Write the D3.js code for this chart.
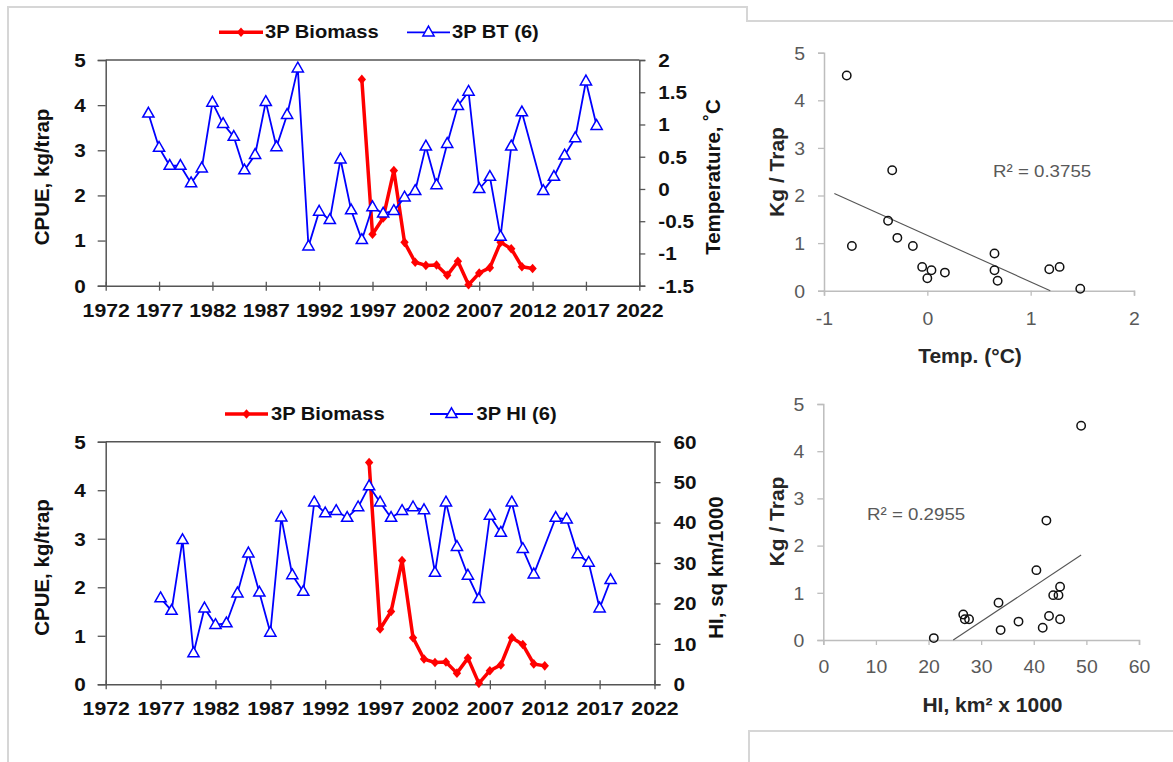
<!DOCTYPE html>
<html><head><meta charset="utf-8">
<script src="https://cdn.jsdelivr.net/npm/d3@7"></script>
<style>body{margin:0;background:#fff} svg{display:block} text{font-family:"Liberation Sans",Arial,sans-serif}</style>
</head><body><svg id="c" width="1173" height="762"></svg>
<script>
// ---------- data ----------
const yearTicks = [1972,1977,1982,1987,1992,1997,2002,2007,2012,2017,2022];
const cpueTicks = [0,1,2,3,4,5];
const tempTicks = [-1.5,-1,-0.5,0,0.5,1,1.5,2];
const hiTicks = [0,10,20,30,40,50,60];

const biomassYears = [1996,1997,1998,1999,2000,2001,2002,2003,2004,2005,2006,2007,2008,2009,2010,2011,2012];
const biomassValues = [4.57,1.14,1.50,2.55,0.96,0.52,0.45,0.46,0.23,0.54,0.02,0.28,0.40,0.96,0.82,0.42,0.38];

const btYears = [1976,1977,1978,1979,1980,1981,1982,1983,1984,1985,1986,1987,1988,1989,1990,1991,1992,1993,1994,1995,1996,1997,1998,1999,2000,2001,2002,2003,2004,2005,2006,2007,2008,2009,2010,2011,2013,2014,2015,2016,2017,2018];
const btValues = [1.17,0.64,0.36,0.36,0.09,0.32,1.34,1.01,0.81,0.29,0.53,1.35,0.65,1.15,1.87,-0.89,-0.35,-0.48,0.46,-0.33,-0.79,-0.28,-0.38,-0.34,-0.13,-0.03,0.66,0.06,0.70,1.29,1.51,0.00,0.19,-0.74,0.66,1.19,-0.03,0.19,0.52,0.79,1.67,0.98];

const hiYears = [1977,1978,1979,1980,1981,1982,1983,1984,1985,1986,1987,1988,1989,1990,1991,1992,1993,1994,1995,1996,1997,1998,1999,2000,2001,2002,2003,2004,2005,2006,2007,2008,2009,2010,2011,2013,2014,2015,2016,2017,2018];
const hiValues = [21.3,18.2,35.7,7.7,18.8,14.7,15.1,22.5,32.4,22.7,12.8,41.3,27.0,22.9,45.0,42.3,42.9,41.2,43.8,49.0,45.0,41.2,42.9,43.8,43.1,27.6,45.0,34.0,26.9,21.1,41.7,37.5,45.0,33.5,27.2,41.2,40.8,32.2,30.1,18.8,25.8];

const scatTempX = [-0.78,-0.29,-0.38,-0.34,-0.14,-0.05,0.65,0.04,0.68,1.28,1.48,0.00,0.17,-0.73,0.65,1.18];
const scatTempY = [4.52,1.11,1.47,2.53,0.94,0.50,0.43,0.43,0.21,0.50,0.04,0.26,0.38,0.94,0.78,0.45];
const trendTempX = [-0.9,1.19];
const trendTempY = [2.04,0];
const scatTempXTicks = [-1,0,1,2];

const scatHiX = [49.0,45.0,40.5,42.4,43.7,42.9,27.7,45.0,33.7,26.6,21.0,41.7,37.1,44.7,33.3,26.9];
const scatHiY = [4.54,1.13,1.48,2.53,0.95,0.51,0.44,0.44,0.21,0.54,0.04,0.26,0.39,0.95,0.79,0.44];
const trendHiX = [24.7,49.0];
const trendHiY = [0,1.80];
const scatHiXTicks = [0,10,20,30,40,50,60];

// ---------- drawing ----------
const svg = d3.select("#c");
const SX = 1.15;
const AX = "#555";
const BLUE = "#0000ff", RED = "#ff0000";

// frame
svg.append("path").attr("d","M8,762V7H747V21H1173").attr("fill","none").attr("stroke","#d6d6d6").attr("stroke-width",2);
svg.append("path").attr("d","M749,762V731H1173").attr("fill","none").attr("stroke","#d6d6d6").attr("stroke-width",2);

function stext(g, x, y, str, o){
  return g.append("text").attr("transform",`translate(${x},${y}) scale(${o.sx||1},1)`)
    .attr("text-anchor",o.anchor||"start").attr("font-size",o.fs).attr("font-weight",o.bold?"bold":"normal")
    .attr("fill",o.color||"#111").text(str);
}
const triPath = "M0,-6.2L5.6,3.6L-5.6,3.6Z";
const diaPath = "M0,-4.8L4.2,0L0,4.8L-4.2,0Z";

function lineChart(o){
  const g = svg.append("g");
  const x = d3.scaleLinear().domain([1972,2022]).range([o.x0,o.x1]);
  const yL = d3.scaleLinear().domain([0,5]).range([o.y0,o.y1]);
  const yR = d3.scaleLinear().domain(o.rDomain).range([o.y0,o.y1]);

  g.append("line").attr("x1",o.x0).attr("x2",o.x1).attr("y1",o.y1).attr("y2",o.y1).attr("stroke",AX).attr("stroke-width",1.5);

  const xa = g.append("g").attr("transform",`translate(0,${o.y0})`)
    .call(d3.axisBottom(x).tickValues(yearTicks).tickSizeOuter(0).tickSizeInner(4).tickFormat(d3.format("d")));
  xa.selectAll(".tick line").attr("y1",-4).attr("y2",5);
  xa.selectAll(".tick text").attr("y",31).attr("dy",0).attr("font-size",18.5).attr("font-weight","bold")
    .attr("fill","#111").attr("transform",`scale(${SX},1)`).style("font-family",'"Liberation Sans",Arial,sans-serif');

  const la = g.append("g").attr("transform",`translate(${o.x0},0)`)
    .call(d3.axisLeft(yL).tickValues(cpueTicks).tickSizeOuter(0).tickSize(8).tickFormat(d=>String(d)));
  la.selectAll(".tick text").attr("x",-20/SX).attr("dy","0.35em").attr("font-size",18).attr("font-weight","bold")
    .attr("fill","#111").attr("transform",`scale(${SX},1)`).style("font-family",'"Liberation Sans",Arial,sans-serif');

  const ra = g.append("g").attr("transform",`translate(${o.x1},0)`)
    .call(d3.axisRight(yR).tickValues(o.rTicks).tickSizeOuter(0).tickSize(6).tickFormat(d=>String(d)));
  ra.selectAll(".tick text").attr("x",19/SX).attr("dy","0.35em").attr("font-size",18).attr("font-weight","bold")
    .attr("fill","#111").attr("transform",`scale(${SX},1)`).style("font-family",'"Liberation Sans",Arial,sans-serif');

  [xa,la,ra].forEach(a=>{a.select(".domain").attr("stroke",AX).attr("stroke-width",1.5);
    a.selectAll(".tick line").attr("stroke",AX).attr("stroke-width",1.3);});

  // titles
  g.append("text").attr("transform",`translate(41,${o.ymid}) rotate(-90)`).attr("text-anchor","middle")
    .attr("dominant-baseline","central").attr("font-size",20.5).attr("font-weight","bold").attr("fill","#111").text("CPUE, kg/trap");
  g.append("text").attr("transform",`translate(${o.rtx},${o.ymid}) rotate(-90)`).attr("text-anchor","middle")
    .attr("dominant-baseline","central").attr("font-size",20.5).attr("font-weight","bold").attr("fill","#111").text(o.rTitle);

  // biomass (red)
  const bio = biomassYears.map((yr,i)=>[yr,biomassValues[i]]);
  g.append("path").datum(bio).attr("fill","none").attr("stroke",RED).attr("stroke-width",3.5).attr("stroke-linejoin","round")
    .attr("d",d3.line().x(d=>x(d[0])).y(d=>yL(d[1])));
  g.selectAll(null).data(bio).join("path").attr("d",diaPath).attr("fill",RED)
    .attr("transform",d=>`translate(${x(d[0])},${yL(d[1])})`);

  // right series (blue)
  const ser = o.years.map((yr,i)=>[yr,o.values[i]]);
  g.append("path").datum(ser).attr("fill","none").attr("stroke",BLUE).attr("stroke-width",1.8)
    .attr("d",d3.line().x(d=>x(d[0])).y(d=>yR(d[1])));
  g.selectAll(null).data(ser).join("path").attr("d",triPath).attr("fill","#fff").attr("stroke",BLUE).attr("stroke-width",1.5)
    .attr("transform",d=>`translate(${x(d[0])},${yR(d[1])})`);

  // legend
  const L = o.leg;
  g.append("line").attr("x1",L.r0).attr("x2",L.r1).attr("y1",L.y).attr("y2",L.y).attr("stroke",RED).attr("stroke-width",3.5);
  g.append("path").attr("d",diaPath).attr("fill",RED).attr("transform",`translate(${(L.r0+L.r1)/2},${L.y})`);
  stext(g, L.rt, L.y+5.5, "3P Biomass", {fs:17.5,bold:true,sx:SX});
  g.append("line").attr("x1",L.b0).attr("x2",L.b1).attr("y1",L.y).attr("y2",L.y).attr("stroke",BLUE).attr("stroke-width",1.8);
  g.append("path").attr("d",triPath).attr("fill","#fff").attr("stroke",BLUE).attr("stroke-width",1.5).attr("transform",`translate(${(L.b0+L.b1)/2},${L.y})`);
  stext(g, L.bt, L.y+5.5, o.legName, {fs:17.5,bold:true,sx:SX});
}

lineChart({x0:105.7,x1:639.3,y0:285.7,y1:60,ymid:177,rDomain:[-1.5,2],rTicks:tempTicks,
  rTitle:"Temperature, ˚C",rtx:712,years:btYears,values:btValues,legName:"3P BT (6)",
  leg:{y:32.3,r0:219,r1:263,rt:265,b0:407,b1:450,bt:452}});
lineChart({x0:105.7,x1:654.5,y0:684.3,y1:441.7,ymid:567.5,rDomain:[0,60],rTicks:hiTicks,
  rTitle:"HI, sq km/1000",rtx:715,years:hiYears,values:hiValues,legName:"3P HI (6)",
  leg:{y:414,r0:225,r1:268,rt:271,b0:430,b1:473,bt:476.5}});

// ---------- scatters ----------
function scatter(o){
  const g = svg.append("g");
  const x = d3.scaleLinear().domain(o.xDomain).range([o.x0,o.x1]);
  const y = d3.scaleLinear().domain([0,5]).range([o.y0,o.y1]);
  const SC = "#bdbdbd";
  const xa = g.append("g").attr("transform",`translate(0,${o.y0})`)
    .call(d3.axisBottom(x).tickValues(o.xTicks).tickSizeOuter(0).tickSize(5).tickFormat(d=>String(d)));
  xa.selectAll(".tick text").attr("y",o.xlab).attr("dy",0).attr("font-size",18).attr("fill","#595959")
    .attr("transform","scale(1.08,1)").style("font-family",'"Liberation Sans",Arial,sans-serif');
  const ya = g.append("g").attr("transform",`translate(${o.x0},0)`)
    .call(d3.axisLeft(y).tickValues(cpueTicks).tickSizeOuter(0).tickSize(6).tickFormat(d=>String(d)));
  ya.selectAll(".tick text").attr("x",-19/1.08).attr("dy","0.35em").attr("font-size",18).attr("fill","#595959")
    .attr("transform","scale(1.08,1)").style("font-family",'"Liberation Sans",Arial,sans-serif');
  [xa,ya].forEach(a=>{a.select(".domain").attr("stroke",SC).attr("stroke-width",1.5);
    a.selectAll(".tick line").attr("stroke",SC).attr("stroke-width",1.3);});

  g.append("line").attr("x1",x(o.tx[0])).attr("y1",y(o.ty[0])).attr("x2",x(o.tx[1])).attr("y2",y(o.ty[1]))
    .attr("stroke","#555").attr("stroke-width",1.1);
  const pts = o.px.map((v,i)=>[v,o.py[i]]);
  g.selectAll(null).data(pts).join("circle").attr("cx",d=>x(d[0])).attr("cy",d=>y(d[1])).attr("r",4.2)
    .attr("fill","none").attr("stroke","#111").attr("stroke-width",1.5);

  stext(g, o.r2x, o.r2y, o.r2, {fs:17,sx:1.1,color:"#595959"});
  g.append("text").attr("x",o.xtx).attr("y",o.xty).attr("text-anchor","middle").attr("font-size",21)
    .attr("font-weight","bold").attr("fill","#262626").text(o.xTitle);
  g.append("text").attr("transform",`translate(776,${o.ymid}) rotate(-90)`).attr("text-anchor","middle")
    .attr("dominant-baseline","central").attr("font-size",21).attr("font-weight","bold").attr("fill","#262626").text("Kg / Trap");
}

scatter({xDomain:[-1,2],x0:824,x1:1134,y0:290.7,y1:52.7,xTicks:scatTempXTicks,xlab:34,
  px:scatTempX,py:scatTempY,tx:trendTempX,ty:trendTempY,r2:"R² = 0.3755",r2x:993,r2y:177,
  xTitle:"Temp. (°C)",xtx:970,xty:363,ymid:172});
scatter({xDomain:[0,60],x0:823.3,x1:1139,y0:640,y1:404,xTicks:scatHiXTicks,xlab:33,
  px:scatHiX,py:scatHiY,tx:trendHiX,ty:trendHiY,r2:"R² = 0.2955",r2x:867,r2y:519.5,
  xTitle:"HI, km² x 1000",xtx:992.5,xty:711.5,ymid:521.5});
</script></body></html>
